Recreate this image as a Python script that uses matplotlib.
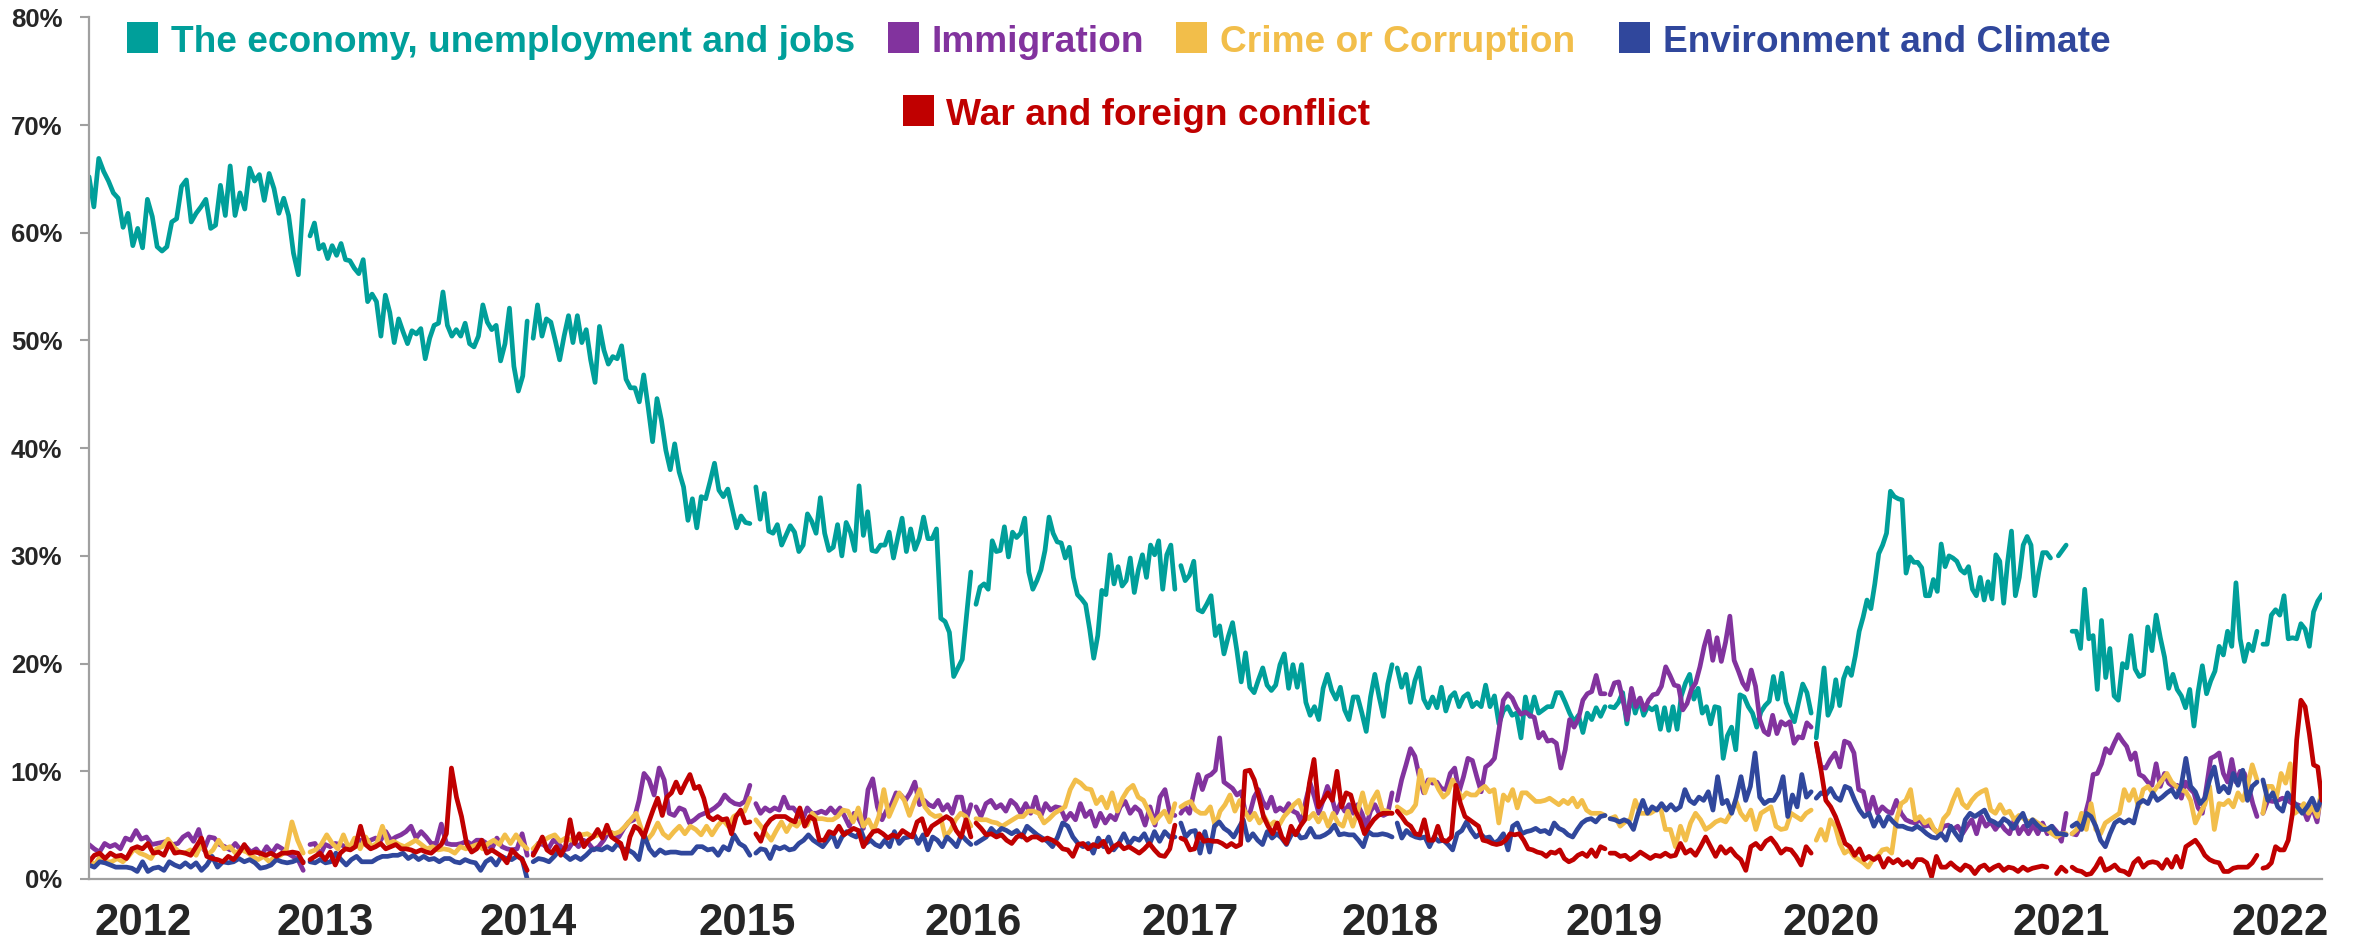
import numpy as np
import matplotlib
matplotlib.use("Agg")
import matplotlib.pyplot as plt
from matplotlib.patches import Rectangle

nan = np.nan

years = ["2012", "2013", "2014", "2015", "2016", "2017", "2018", "2019", "2020", "2021", "2022"]
# survey waves (weeks) covered by each yearly block, and where the year label sits
spans = [(0.0, 50.4), (52.0, 103.1), (104.5, 155.5), (156.9, 207.5), (208.7, 255.5),
         (256.9, 306.6), (307.8, 356.7), (357.9, 405.2), (406.4, 465.2), (466.6, 510.1),
         (511.5, 525.4)]
year_pos = [12.7, 55.5, 103.3, 154.8, 208.0, 259.0, 306.1, 358.8, 409.9, 464.0, 515.5]

economy = [
    [65.2, 62.4, 66.9, 65.7, 64.8, 63.7, 63.2, 60.5, 61.8, 58.8, 60.4, 58.6, 63.1, 61.5, 58.7, 58.3,
     58.7, 61.0, 61.3, 64.3, 64.9, 61.0, 61.8, 62.4, 63.1, 60.4, 60.7, 64.4, 61.6, 66.2, 61.6, 63.7,
     62.2, 66.0, 64.8, 65.4, 63.0, 65.5, 64.1, 61.8, 63.2, 61.6, 58.1, 56.1, 63.0],
    [59.7, 60.9, 58.5, 58.9, 57.6, 58.8, 57.9, 59.0, 57.5, 57.4, 56.7, 56.2, 57.5, 53.6, 54.3, 53.6,
     50.4, 54.2, 52.6, 49.8, 52.0, 50.8, 49.7, 50.9, 50.6, 51.1, 48.3, 50.2, 51.4, 51.6, 54.5, 51.4,
     50.4, 51.0, 50.4, 51.6, 49.7, 49.4, 50.4, 53.3, 51.7, 51.0, 51.4, 48.1, 49.7, 53.0, 47.6, 45.3,
     46.7, 51.8],
    [50.2, 53.3, 50.4, 52.0, 51.7, 50.0, 48.2, 50.4, 52.3, 49.8, 52.3, 49.8, 51.0, 48.2, 46.1, 51.3,
     49.1, 47.8, 48.5, 48.3, 49.5, 46.4, 45.6, 45.6, 44.3, 46.8, 43.8, 40.6, 44.6, 42.6, 39.8, 38.0,
     40.4, 37.8, 36.4, 33.3, 35.3, 32.6, 35.5, 35.3, 36.9, 38.6, 36.1, 35.5, 36.2, 34.4, 32.6, 33.7,
     33.1, 33.0],
    [36.4, 33.4, 35.8, 32.3, 32.1, 32.9, 31.0, 31.9, 32.8, 32.2, 30.4, 31.0, 33.9, 33.2, 32.1, 35.4,
     32.1, 30.5, 30.8, 32.9, 30.0, 33.1, 32.2, 30.5, 36.5, 31.9, 34.1, 30.5, 30.4, 31.0, 31.0, 32.2,
     29.8, 31.7, 33.5, 30.4, 32.5, 30.6, 31.6, 33.6, 31.6, 31.6, 32.5, 24.2, 23.9, 22.9, 18.8, 19.6,
     20.4, 24.5, 28.5],
    [25.5, 27.1, 27.4, 26.9, 31.4, 30.4, 30.5, 32.7, 29.9, 32.2, 31.7, 32.1, 33.5, 28.5, 26.9, 27.7,
     28.7, 30.5, 33.6, 32.1, 31.3, 31.2, 29.8, 30.8, 28.0, 26.4, 26.0, 25.5, 23.2, 20.5, 22.6, 26.8,
     26.4, 30.1, 27.4, 29.0, 27.2, 27.7, 29.8, 26.6, 28.7, 30.1, 28.0, 31.0, 30.1, 31.4, 26.9, 30.1,
     31.0, 26.9],
    [29.1, 27.7, 28.2, 29.5, 25.0, 24.8, 25.5, 26.3, 22.6, 23.5, 20.9, 22.5, 23.8, 21.2, 18.3, 21.0,
     17.8, 17.3, 18.5, 19.6, 18.0, 17.5, 18.0, 19.9, 20.9, 17.7, 19.9, 17.8, 19.9, 16.4, 15.2, 16.0,
     14.8, 17.7, 19.0, 17.5, 16.7, 17.8, 15.7, 14.8, 16.9, 16.9, 15.4, 13.7, 16.9, 19.0, 16.9, 15.1,
     18.1, 19.9],
    [19.6, 17.8, 19.0, 16.4, 18.4, 19.6, 16.7, 15.9, 16.9, 15.9, 17.8, 15.6, 16.9, 17.3, 16.0, 16.9,
     17.2, 16.0, 16.4, 16.0, 18.0, 16.0, 17.0, 14.4, 15.6, 16.0, 15.2, 15.4, 13.1, 16.9, 15.1, 16.9,
     15.4, 15.7, 16.0, 16.0, 17.3, 17.3, 16.4, 15.4, 14.6, 15.2, 13.6, 15.4, 14.8, 15.9, 15.1, 16.0],
    [16.0, 15.9, 16.4, 17.3, 14.4, 17.2, 15.4, 16.7, 15.2, 16.0, 15.7, 16.0, 13.9, 15.9, 13.8, 16.0,
     13.9, 17.0, 18.2, 19.0, 16.7, 17.7, 15.4, 16.0, 14.4, 16.0, 15.9, 11.2, 13.3, 14.1, 12.0, 17.1,
     16.9, 16.0, 15.4, 14.1, 15.5, 16.1, 16.5, 18.8, 16.7, 19.1, 16.4, 15.4, 14.6, 16.4, 18.1, 17.3,
     15.4],
    [13.1, 16.4, 19.6, 15.2, 16.0, 18.5, 16.1, 18.6, 19.6, 18.9, 20.7, 23.0, 24.3, 25.9, 25.1, 27.4,
     30.2, 31.0, 32.1, 36.0, 35.5, 35.3, 35.2, 28.4, 29.9, 29.4, 29.4, 28.9, 26.3, 26.3, 27.8, 26.7,
     31.1, 29.0, 30.0, 29.8, 29.5, 28.7, 28.4, 29.0, 26.9, 26.3, 28.0, 25.9, 27.6, 26.0, 30.1, 29.5,
     25.6, 29.4, 32.3, 26.3, 28.0, 31.0, 31.8, 31.0, 26.3, 28.5, 30.3, 30.3, 29.8, nan, 30.0, 30.5,
     31.0],
    [23.0, 23.0, 21.4, 26.9, 22.3, 22.6, 17.6, 24.0, 18.7, 21.4, 17.0, 16.6, 20.0, 19.6, 22.6, 19.5,
     18.8, 19.0, 23.4, 21.2, 24.5, 22.4, 20.6, 17.7, 19.0, 17.6, 17.0, 15.9, 17.6, 14.2, 17.4, 19.8,
     17.2, 18.4, 19.3, 21.6, 20.8, 23.0, 21.6, 27.5, 22.3, 20.2, 21.8, 21.2, 23.0],
    [21.8, 21.8, 24.5, 25.0, 24.5, 26.3, 22.3, 22.4, 22.3, 23.7, 23.2, 21.6, 24.8, 25.8, 26.4],
]

immigration = [
    [3.2, 2.8, 2.5, 3.3, 3.0, 3.2, 2.8, 3.8, 3.6, 4.5, 3.7, 3.9, 3.2, 3.3, 3.4, 3.5, 3.2, 3.3, 3.9,
     4.2, 3.5, 4.6, 2.7, 3.9, 3.8, 3.2, 3.0, 2.7, 3.3, 2.7, 3.0, 2.5, 2.8, 2.2, 3.0, 2.4, 3.1, 2.8,
     2.4, 2.1, 1.8, 0.8],
    [3.2, 3.3, 2.2, 3.2, 3.0, 3.3, 3.2, 3.0, 2.8, 3.2, 3.6, 3.3, 3.6, 3.8, 3.6, 4.4, 3.6, 3.9, 4.1,
     4.4, 4.9, 3.8, 4.4, 3.9, 3.3, 3.3, 5.1, 3.3, 3.2, 3.2, 3.3, 3.5, 3.2, 3.6, 3.6, 3.3, 2.8, 3.8,
     3.0, 2.8, 2.7, 2.8, 4.2, 2.2],
    [2.4, 3.3, 3.2, 2.8, 3.6, 3.3, 2.7, 2.8, 3.5, 3.0, 3.6, 3.3, 2.7, 3.0, 3.6, 4.4, 4.2, 3.9, 4.7,
     5.3, 5.5, 7.3, 9.8, 9.2, 7.8, 10.3, 9.2, 6.1, 5.9, 6.6, 6.4, 5.2, 5.5, 5.9, 6.1, 6.3, 6.6, 7.0,
     7.8, 7.3, 7.0, 6.9, 7.2, 8.7],
    [7.0, 6.1, 6.6, 6.3, 6.6, 6.4, 7.6, 6.6, 6.6, 6.1, 5.5, 6.6, 6.1, 6.1, 6.3, 6.1, 6.6, 6.1, 6.6,
     5.8, 4.9, 6.1, 5.6, 4.7, 8.3, 9.3, 6.7, 5.5, 6.4, 6.9, 8.0, 7.8, 7.3, 8.0, 9.0, 6.9, 7.3, 6.9,
     6.7, 7.3, 6.4, 6.9, 6.1, 7.6, 7.6, 5.5, 6.9],
    [6.7, 5.8, 7.0, 7.3, 6.6, 6.9, 6.3, 7.3, 6.9, 6.1, 7.0, 6.1, 7.6, 5.8, 7.0, 6.4, 6.7, 6.6, 5.5,
     6.1, 5.5, 7.0, 5.8, 6.3, 4.9, 6.1, 5.2, 5.9, 5.5, 6.7, 7.2, 6.1, 6.7, 6.3, 5.0, 6.7, 5.0, 7.6,
     8.3, 6.1, 5.9],
    [6.1, 6.7, 6.1, 8.0, 9.7, 8.3, 9.5, 9.7, 10.1, 13.1, 9.0, 8.7, 8.4, 7.8, 8.1, 6.1, 6.1, 7.6, 8.3,
     7.2, 6.6, 7.6, 6.3, 6.6, 6.3, 7.0, 6.3, 6.1, 5.2, 7.3, 8.9, 7.6, 6.1, 7.3, 8.6, 7.6, 6.1, 7.0,
     6.3, 6.9, 6.1, 6.9, 6.1, 4.9, 6.3, 6.9, 6.1, 5.9, 6.1, 8.0],
    [7.3, 9.2, 10.6, 12.1, 11.4, 9.5, 8.0, 9.2, 8.9, 9.0, 8.4, 8.3, 9.8, 10.3, 8.1, 9.5, 11.2, 11.0,
     9.5, 8.1, 10.4, 10.7, 11.2, 13.8, 16.6, 17.2, 16.8, 15.9, 15.3, 15.5, 15.2, 15.0, 13.1, 13.6,
     12.8, 12.9, 12.6, 10.3, 12.0, 14.8, 14.1, 14.9, 16.6, 17.2, 17.4, 18.9, 17.2, 17.2],
    [17.1, 18.2, 18.3, 16.6, 14.8, 17.7, 16.0, 16.8, 15.7, 16.6, 17.1, 17.2, 17.9, 19.7, 18.9, 18.0,
     17.9, 15.7, 16.3, 17.6, 18.2, 19.7, 21.6, 23.0, 20.3, 22.4, 20.2, 22.0, 24.4, 20.3, 19.3, 18.2,
     17.6, 19.4, 17.9, 14.8, 13.7, 13.4, 15.2, 13.5, 14.6, 14.3, 14.6, 12.6, 13.2, 13.1, 14.5, 14.1],
    [12.6, 10.4, 10.3, 11.1, 11.7, 10.4, 12.8, 12.6, 11.7, 8.3, 8.1, 6.1, 7.6, 6.1, 6.7, 6.3, 6.1,
     7.3, 6.1, 5.5, 5.3, 5.2, 5.5, 4.9, 5.0, 4.6, 4.2, 4.9, 5.0, 4.6, 4.9, 4.2, 4.9, 5.5, 4.2, 5.8,
     4.9, 5.3, 4.6, 5.2, 4.6, 4.2, 5.5, 4.2, 4.9, 4.2, 5.0, 4.2, 5.2, 4.2, 4.9, 4.4, 3.5, 6.1],
    [4.2, 4.1, 4.9, 5.8, 7.3, 9.7, 9.8, 10.7, 12.1, 11.7, 12.6, 13.4, 12.8, 12.3, 11.1, 11.7, 9.7,
     9.5, 9.0, 8.7, 10.7, 8.6, 9.8, 8.9, 8.6, 8.7, 7.5, 9.0, 8.4, 8.0, 6.6, 6.1, 8.6, 11.2, 11.4,
     11.7, 9.8, 9.0, 11.1, 9.0, 10.0, 9.8, 8.6, 7.0, 5.8],
    [6.1, 7.3, 7.2, 7.3, 7.5, 7.3, 7.0, 6.9, 6.7, 5.5, 6.7, 5.3, 8.6],
]

crime = [
    [1.8, 1.3, 2.1, 1.6, 1.6, 1.9, 1.6, 2.1, 2.8, 2.4, 2.2, 1.9, 2.8, 3.0, 3.7, 3.0, 2.5, 2.4, 2.7,
     2.2, 3.3, 2.2, 2.7, 3.6, 2.8, 3.0, 2.4, 2.7, 2.5, 2.1, 1.8, 2.1, 1.6, 2.1, 2.2, 2.7, 5.3, 3.6,
     2.4],
    [2.5, 2.7, 3.2, 4.1, 3.3, 2.8, 4.1, 2.8, 3.8, 2.8, 3.9, 3.0, 3.3, 4.9, 3.3, 3.5, 3.2, 3.0, 3.3,
     3.6, 3.2, 2.8, 3.0, 2.7, 2.8, 2.7, 2.4, 3.0, 2.8, 3.0, 3.2, 2.8, 3.3, 3.6, 3.2, 4.1, 3.3, 4.1,
     3.3, 2.8],
    [2.8, 3.3, 3.6, 3.9, 4.1, 3.5, 3.8, 3.6, 3.8, 4.1, 4.2, 3.9, 4.1, 4.2, 4.4, 4.2, 4.4, 4.9, 5.5,
     6.1, 4.6, 3.6, 4.2, 5.2, 4.2, 3.8, 4.4, 4.9, 4.2, 4.9, 4.6, 4.1, 4.9, 4.1, 4.9, 5.5, 4.9, 5.8,
     6.1, 6.3, 7.5],
    [5.5, 4.9, 4.2, 3.6, 4.5, 5.3, 4.4, 5.2, 4.9, 5.5, 5.0, 6.1, 5.6, 5.6, 5.5, 5.5, 5.8, 6.4, 6.3,
     5.3, 6.6, 4.9, 5.5, 4.5, 5.8, 8.3, 5.8, 6.9, 8.0, 7.3, 5.9, 7.2, 8.3, 6.7, 6.1, 5.8, 5.9, 3.9,
     4.5, 5.5, 6.1, 5.8, 4.9],
    [5.6, 5.5, 5.5, 5.3, 5.2, 4.9, 5.2, 5.5, 5.8, 5.8, 6.3, 6.3, 6.1, 5.2, 5.6, 6.1, 6.4, 6.7, 8.3,
     9.2, 8.9, 8.4, 8.3, 7.0, 7.6, 6.6, 8.0, 6.3, 7.5, 8.3, 8.7, 7.6, 7.3, 6.3, 5.2, 5.8, 6.3, 5.3,
     7.0],
    [6.7, 7.0, 7.2, 6.4, 6.1, 6.1, 6.7, 4.9, 6.3, 6.9, 7.8, 6.3, 7.3, 6.3, 5.5, 6.1, 5.2, 5.8, 4.9,
     5.3, 5.0, 5.8, 6.3, 6.9, 7.3, 6.1, 5.6, 6.1, 5.3, 6.1, 4.9, 6.1, 5.2, 4.9, 6.3, 4.9, 6.3, 8.0,
     6.1, 7.3, 8.1, 6.4, 6.3, 6.1],
    [6.7, 6.4, 6.1, 6.3, 6.9, 10.1, 8.0, 9.2, 9.2, 8.3, 7.6, 8.0, 9.2, 8.3, 7.5, 8.0, 7.8, 7.8, 8.3,
     8.6, 8.1, 8.3, 5.2, 7.8, 7.3, 8.3, 6.6, 8.0, 8.0, 7.6, 7.2, 7.2, 7.3, 7.5, 7.2, 6.9, 7.3, 7.0,
     7.5, 6.7, 7.3, 6.4, 6.1, 6.1, 6.1, 5.9],
    [5.6, 5.8, 4.9, 5.3, 5.5, 7.3, 6.1, 6.1, 6.1, 6.4, 6.7, 4.6, 4.6, 3.0, 4.9, 3.6, 5.2, 6.1, 5.5,
     4.6, 4.9, 5.3, 5.5, 5.3, 6.1, 7.3, 6.1, 5.5, 6.4, 4.6, 6.1, 6.4, 6.7, 4.9, 4.6, 4.7, 6.1, 5.8,
     5.5, 6.1, 6.4],
    [3.6, 4.6, 3.6, 5.5, 4.9, 3.3, 2.4, 2.7, 2.1, 1.8, 1.5, 1.1, 1.8, 2.1, 2.7, 2.8, 2.4, 5.5, 7.0,
     7.3, 8.3, 5.5, 5.8, 5.2, 5.5, 4.6, 4.2, 5.6, 6.1, 7.3, 8.3, 7.0, 6.6, 7.3, 7.8, 8.1, 8.3, 6.4,
     6.1, 6.9, 6.1, 6.3, 5.5, 5.9, 5.6, 5.3, 5.5, 5.2, 4.9, 4.6, 4.2, 3.9, 4.2, 4.2],
    [4.2, 4.6, 6.1, 4.6, 7.0, 4.6, 4.2, 5.2, 5.5, 5.8, 6.1, 8.3, 7.3, 8.3, 6.7, 8.3, 8.6, 8.0, 8.6,
     9.2, 9.8, 9.0, 8.6, 8.3, 8.1, 7.3, 5.2, 6.1, 6.9, 8.6, 4.6, 7.0, 6.9, 7.3, 6.7, 8.0, 7.3, 8.6,
     10.6, 9.2],
    [6.1, 8.6, 8.6, 7.6, 9.8, 8.9, 10.7, 6.1, 6.4, 7.0, 6.1, 6.7, 5.8, 8.6],
]

environment = [
    [1.3, 1.1, 1.6, 1.5, 1.3, 1.1, 1.1, 1.1, 1.0, 0.7, 1.6, 0.7, 1.0, 1.1, 0.8, 1.6, 1.3, 1.1, 1.5,
     1.1, 1.5, 0.8, 1.3, 2.1, 1.1, 1.6, 1.5, 1.6, 1.9, 1.6, 1.8, 1.5, 1.0, 1.1, 1.3, 1.8, 1.6, 1.5,
     1.6, 1.8, 1.6],
    [1.6, 1.5, 1.8, 1.5, 1.6, 2.4, 1.8, 1.3, 1.8, 2.1, 1.6, 1.6, 1.6, 1.9, 2.1, 2.1, 2.2, 2.2, 2.4,
     1.9, 2.2, 1.8, 2.1, 1.8, 1.9, 1.6, 1.9, 1.9, 1.6, 1.5, 1.8, 1.6, 1.5, 0.8, 1.6, 1.9, 1.3, 2.1,
     1.9, 1.8, 2.1, 1.9, 0.0],
    [1.6, 1.9, 1.8, 1.6, 2.1, 2.7, 2.2, 1.8, 2.1, 1.8, 2.2, 2.7, 2.8, 2.7, 3.0, 2.7, 3.3, 2.8, 2.7,
     2.4, 1.8, 4.1, 2.8, 2.2, 2.7, 2.4, 2.5, 2.5, 2.4, 2.4, 2.4, 3.0, 3.0, 2.7, 2.8, 2.2, 3.0, 2.7,
     4.1, 3.3, 3.0, 2.2],
    [2.4, 2.8, 2.7, 1.9, 3.0, 2.8, 3.0, 2.7, 2.8, 3.3, 3.6, 4.1, 3.6, 3.3, 3.0, 3.6, 4.2, 3.0, 3.9,
     4.4, 4.1, 3.9, 4.5, 3.3, 3.6, 3.2, 3.0, 3.6, 3.0, 4.4, 3.3, 3.8, 3.9, 4.2, 3.3, 4.1, 2.7, 3.9,
     3.6, 3.0, 3.9, 3.5, 3.0, 4.1, 3.6, 3.2],
    [3.3, 3.6, 3.9, 4.7, 4.2, 4.7, 4.5, 4.2, 4.5, 3.9, 4.9, 4.5, 4.1, 3.8, 3.5, 3.0, 3.9, 5.2, 4.9,
     3.9, 3.3, 3.0, 3.3, 2.4, 3.8, 3.0, 3.9, 2.7, 3.3, 4.2, 3.2, 3.8, 3.6, 4.2, 3.2, 4.4, 3.5, 4.4,
     3.9, 3.9],
    [5.2, 3.9, 4.4, 4.5, 2.4, 4.4, 2.5, 4.9, 5.3, 4.7, 4.4, 3.9, 4.7, 5.5, 3.6, 4.2, 3.6, 3.2, 4.4,
     3.8, 4.2, 3.8, 3.2, 4.1, 4.4, 3.8, 3.9, 4.7, 3.9, 3.9, 4.1, 4.4, 5.0, 4.1, 4.2, 4.1, 4.1, 3.6,
     3.0, 4.4, 4.1, 4.1, 4.2, 4.1, 3.9],
    [5.2, 3.8, 4.5, 4.1, 3.9, 3.8, 3.9, 3.0, 3.9, 3.5, 3.6, 3.2, 2.7, 4.2, 4.5, 5.3, 4.5, 3.9, 4.2,
     3.8, 3.9, 3.3, 3.6, 4.2, 2.7, 4.9, 5.2, 4.2, 4.4, 4.5, 4.7, 4.4, 4.5, 4.2, 5.2, 4.7, 4.5, 4.1,
     3.9, 4.6, 5.2, 5.5, 5.6, 5.3, 5.8, 5.9],
    [5.6, 5.5, 5.3, 5.5, 5.3, 4.6, 6.1, 7.3, 6.1, 6.7, 6.4, 7.0, 6.4, 6.9, 6.4, 6.7, 8.3, 7.3, 7.0,
     7.6, 7.3, 8.1, 6.4, 9.5, 7.0, 7.3, 6.1, 7.6, 9.5, 7.3, 8.6, 11.7, 7.6, 7.0, 7.3, 7.3, 8.0, 9.5,
     5.8, 7.8, 6.7, 9.7, 7.6, 8.1],
    [7.5, 8.0, 7.8, 8.4, 7.6, 7.3, 8.6, 8.4, 7.3, 6.4, 5.8, 6.1, 4.9, 5.8, 4.9, 5.8, 5.3, 4.9, 4.9,
     4.7, 4.6, 4.9, 4.6, 4.2, 3.9, 3.8, 4.2, 3.6, 4.9, 4.2, 3.6, 5.5, 6.1, 5.8, 6.1, 6.4, 5.5, 5.3,
     5.0, 5.6, 5.3, 4.7, 5.5, 6.1, 4.9, 5.5, 5.0, 4.6, 4.6, 4.9, 4.2, 4.2, 4.1],
    [4.9, 5.2, 4.6, 6.1, 5.8, 4.9, 3.6, 3.0, 4.2, 5.2, 5.5, 5.2, 5.5, 5.2, 7.0, 7.3, 7.0, 8.0, 7.3,
     7.6, 8.0, 8.3, 7.6, 8.6, 11.2, 8.6, 8.1, 7.0, 7.5, 9.2, 10.4, 8.1, 8.6, 8.0, 9.8, 8.7, 10.1,
     7.3, 8.6, 9.0],
    [9.2, 7.3, 8.0, 6.7, 6.3, 8.0, 7.3, 6.7, 6.1, 6.7, 7.5, 6.4, 7.6],
]

war = [
    [1.6, 2.2, 2.4, 1.9, 2.4, 2.1, 2.2, 1.9, 2.8, 3.0, 2.8, 3.3, 2.4, 2.5, 2.2, 3.3, 2.4, 2.5, 2.4,
     2.2, 3.0, 3.8, 2.1, 1.9, 1.8, 1.6, 2.1, 1.8, 2.4, 3.2, 2.4, 2.5, 2.4, 2.2, 2.4, 2.1, 2.4, 2.4,
     2.5, 2.4, 1.5],
    [1.8, 2.1, 2.4, 1.8, 2.5, 1.3, 2.4, 2.8, 2.7, 3.0, 4.9, 3.2, 2.8, 3.0, 3.3, 2.8, 3.0, 3.2, 2.8,
     2.8, 2.7, 2.5, 2.7, 2.5, 2.4, 2.8, 3.2, 4.2, 10.3, 7.6, 5.8, 3.3, 2.5, 2.8, 3.6, 2.4, 2.7, 2.4,
     2.1, 1.5, 2.7, 2.2, 1.8, 0.8],
    [2.2, 3.0, 3.9, 2.7, 2.4, 3.0, 2.2, 3.0, 5.5, 3.3, 4.2, 3.0, 3.6, 3.9, 4.6, 3.8, 5.0, 3.9, 3.6,
     3.3, 1.9, 3.9, 4.9, 4.6, 3.9, 5.2, 6.4, 7.5, 5.9, 7.6, 8.0, 9.0, 8.0, 8.9, 9.7, 8.4, 8.6, 7.5,
     5.8, 5.5, 5.8, 5.5, 5.6, 4.2, 5.8, 6.4, 5.2, 5.3],
    [4.2, 3.5, 4.9, 5.5, 5.8, 5.8, 5.8, 5.5, 5.3, 6.6, 4.9, 5.8, 5.5, 3.6, 3.6, 4.4, 4.2, 4.9, 4.1,
     4.4, 4.7, 4.5, 3.0, 3.8, 4.4, 4.5, 4.2, 3.8, 4.1, 3.9, 4.5, 4.2, 3.9, 5.3, 5.6, 4.1, 4.9, 5.2,
     5.5, 5.8, 5.5, 4.5, 3.9, 5.5, 3.9],
    [5.2, 4.7, 4.1, 4.2, 3.9, 4.1, 3.6, 3.3, 3.9, 4.1, 3.6, 3.9, 3.9, 3.6, 3.8, 3.6, 3.3, 2.8, 2.7,
     2.1, 3.2, 3.3, 2.8, 3.2, 3.0, 3.5, 2.5, 3.0, 3.3, 2.8, 3.0, 2.7, 2.4, 2.8, 3.3, 2.7, 2.2, 2.1,
     2.8, 5.0],
    [3.8, 3.6, 2.7, 2.8, 4.2, 3.5, 3.6, 3.5, 3.5, 3.3, 3.0, 3.3, 3.0, 3.2, 10.0, 10.1, 9.2, 7.6, 5.8,
     4.9, 4.2, 5.2, 3.9, 3.3, 4.9, 4.1, 4.9, 5.5, 8.9, 11.1, 6.7, 7.3, 8.0, 7.3, 10.0, 6.7, 8.0, 7.8,
     6.3, 5.5, 4.2, 4.9, 5.5, 5.9, 6.1, 6.1, 6.1],
    [6.3, 5.8, 5.2, 4.9, 4.2, 4.1, 5.5, 3.6, 3.6, 4.9, 3.6, 3.5, 3.9, 8.7, 7.0, 5.8, 5.5, 5.2, 4.9,
     3.6, 3.5, 3.3, 3.2, 3.3, 3.6, 4.2, 4.1, 4.2, 3.6, 2.8, 2.7, 2.5, 2.4, 2.1, 2.5, 2.4, 2.7, 1.9,
     1.6, 1.8, 2.2, 2.4, 2.1, 2.7, 2.1, 3.0, 2.8],
    [2.4, 2.4, 2.1, 2.2, 1.8, 2.1, 2.5, 2.2, 1.9, 2.2, 2.1, 2.4, 2.1, 2.2, 3.3, 2.4, 2.7, 2.2, 3.0,
     3.9, 3.0, 2.1, 3.0, 2.4, 2.8, 2.2, 1.8, 0.8, 3.0, 3.3, 2.8, 3.5, 3.8, 3.2, 2.4, 2.8, 2.7, 2.1,
     1.3, 3.0, 2.4],
    [12.6, 10.1, 7.3, 6.7, 5.8, 4.6, 3.3, 3.0, 2.2, 2.8, 1.8, 2.1, 1.8, 2.1, 1.1, 1.9, 1.5, 1.8, 1.3,
     1.6, 1.1, 1.8, 1.8, 1.5, 0.2, 2.1, 1.1, 1.1, 1.5, 1.1, 0.8, 1.3, 1.1, 0.5, 1.1, 1.3, 0.8, 1.1,
     1.3, 0.8, 1.1, 1.0, 0.7, 1.1, 0.8, 1.0, 1.1, 1.2, 1.1, nan, 0.5, 1.1, 0.7],
    [1.1, 0.8, 0.7, 0.4, 0.5, 1.1, 1.9, 0.8, 1.0, 1.3, 0.8, 0.7, 0.4, 1.5, 1.9, 1.1, 1.5, 1.6, 1.5,
     1.0, 1.8, 1.1, 2.1, 1.1, 3.0, 3.3, 3.6, 3.0, 2.2, 1.8, 1.6, 1.5, 0.7, 0.7, 1.0, 1.1, 1.1, 1.1,
     1.5, 2.2],
    [1.0, 1.1, 1.5, 3.0, 2.7, 2.7, 3.6, 6.1, 12.9, 16.6, 16.0, 13.5, 10.6, 10.4, 7.3],
]

series = [
    ("The economy, unemployment and jobs", economy, "#009F9A"),
    ("Immigration", immigration, "#82339E"),
    ("Crime or Corruption", crime, "#F2BE4A"),
    ("Environment and Climate", environment, "#30479C"),
    ("War and foreign conflict", war, "#C00000"),
]

W, H = 2354, 942
fig = plt.figure(figsize=(W / 100, H / 100), dpi=100)
ax = fig.add_axes([89 / W, 1 - 879 / H, (2322 - 89) / W, (879 - 17.3) / H])

for name, blocks, col in series:
    for (a, b), vals in zip(spans, blocks):
        x = np.linspace(a, b, len(vals))
        ax.plot(x, vals, color=col, lw=3.4, solid_joinstyle="round", solid_capstyle="round")

ax.set_xlim(0, 525.4)
ax.set_ylim(0, 80)
ax.set_yticks(range(0, 81, 10))
ax.set_yticklabels([f"{v}%" for v in range(0, 81, 10)])
ax.set_xticks(year_pos)
ax.set_xticklabels(years)

for s in ["top", "right"]:
    ax.spines[s].set_visible(False)
for s in ["left", "bottom"]:
    ax.spines[s].set_color("#A0A0A0")
    ax.spines[s].set_linewidth(1.6)

ax.tick_params(axis="y", length=6.3, width=1.5, color="#A0A0A0", pad=13,
               labelsize=18.5, labelcolor="#262626")
ax.tick_params(axis="x", length=0, pad=17.5, labelsize=31.5, labelcolor="#262626")
for lab in ax.get_yticklabels() + ax.get_xticklabels():
    lab.set_fontfamily("Liberation Sans")
    lab.set_fontweight("bold")

# legend drawn by hand: square + coloured label
legend_items = [
    (0, 127, 171, 22, 51.7),
    (1, 888, 932, 22, 51.7),
    (2, 1176, 1220, 22, 51.7),
    (3, 1619, 1663, 22, 51.7),
    (4, 903, 946, 95, 125.0),
]
for idx, sx, tx, sy, base in legend_items:
    name, _, col = series[idx]
    fig.patches.append(Rectangle((sx / W, 1 - (sy + 31) / H), 31 / W, 31 / H,
                                 transform=fig.transFigure, color=col, lw=0))
    fig.text(tx / W, 1 - base / H, name, color=col, fontsize=26.7, fontweight="bold",
             family="Liberation Sans", ha="left", va="baseline")

fig.savefig("out.png", dpi=100)
